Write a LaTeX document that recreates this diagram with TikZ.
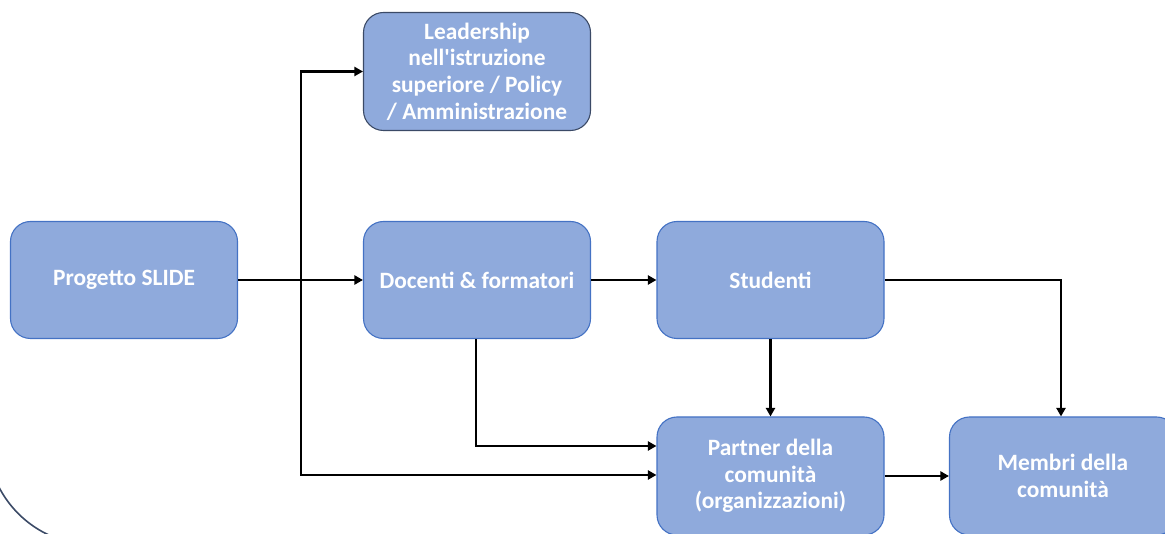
\documentclass[tikz,border=0pt]{standalone}
\usepackage{fontspec}
\setmainfont{Carlito}
\usetikzlibrary{arrows.meta}
\definecolor{boxfill}{HTML}{8FAADC}
\definecolor{boxline}{HTML}{4472C4}
\definecolor{darkline}{HTML}{3B4A66}
\begin{document}
\begin{tikzpicture}[x=1pt,y=-1pt,
  flowbox/.style={draw=boxline, line width=1.1pt, fill=boxfill,
    rounded corners=20pt, minimum width=227pt, minimum height=117pt,
    align=center, text=white, inner sep=4pt,
    font=\fontsize{23.4}{26.7}\selectfont\bfseries},
  link/.style={line width=2.3pt, -{Triangle[length=8.5pt,width=9pt]}}]
  \useasboundingbox (0,0) rectangle (1165,534);
  \clip (0,0) rectangle (1165,534);
  % large rounded frame of the slide layout (only its lower-left corner shows)
  \draw[darkline, line width=1.6pt, rounded corners=107pt]
    (-13,-400) rectangle (1600,545);

  % boxes
  \node[flowbox, draw=darkline, minimum height=118pt] (lead) at (477,71.5)
    {Leadership\\nell\textquotesingle istruzione\\superiore / Policy\\/ Amministrazione};
  \node[flowbox] (prog) at (124,280) {Progetto SLIDE};
  \node[flowbox] (doc)  at (477,280) {Docenti \& formatori};
  \node[flowbox] (stud) at (770.5,280) {Studenti};
  \node[flowbox, minimum height=118pt] (part) at (770.5,476)
    {Partner della\\comunità\\(organizzazioni)};
  \node[flowbox, minimum height=118pt] (memb) at (1063,476)
    {Membri della\\comunità};

  % connectors
  \coordinate (j) at (301,280);
  \draw[link] (prog.east) -- (doc.west);
  \draw[link] (prog.east) -- (j) |- (lead.west);
  \draw[link] (prog.east) -- (j) |- ([yshift=1pt]part.west);
  \draw[link] (doc.south -| 476,0) |- ([yshift=30pt]part.west);
  \draw[link] (doc.east) -- (stud.west);
  \draw[link] (stud.south) -- (part.north);
  \draw[link] (stud.east) -| ([xshift=-2pt]memb.north);
  \draw[link] (part.east) -- (memb.west);
\end{tikzpicture}
\end{document}
